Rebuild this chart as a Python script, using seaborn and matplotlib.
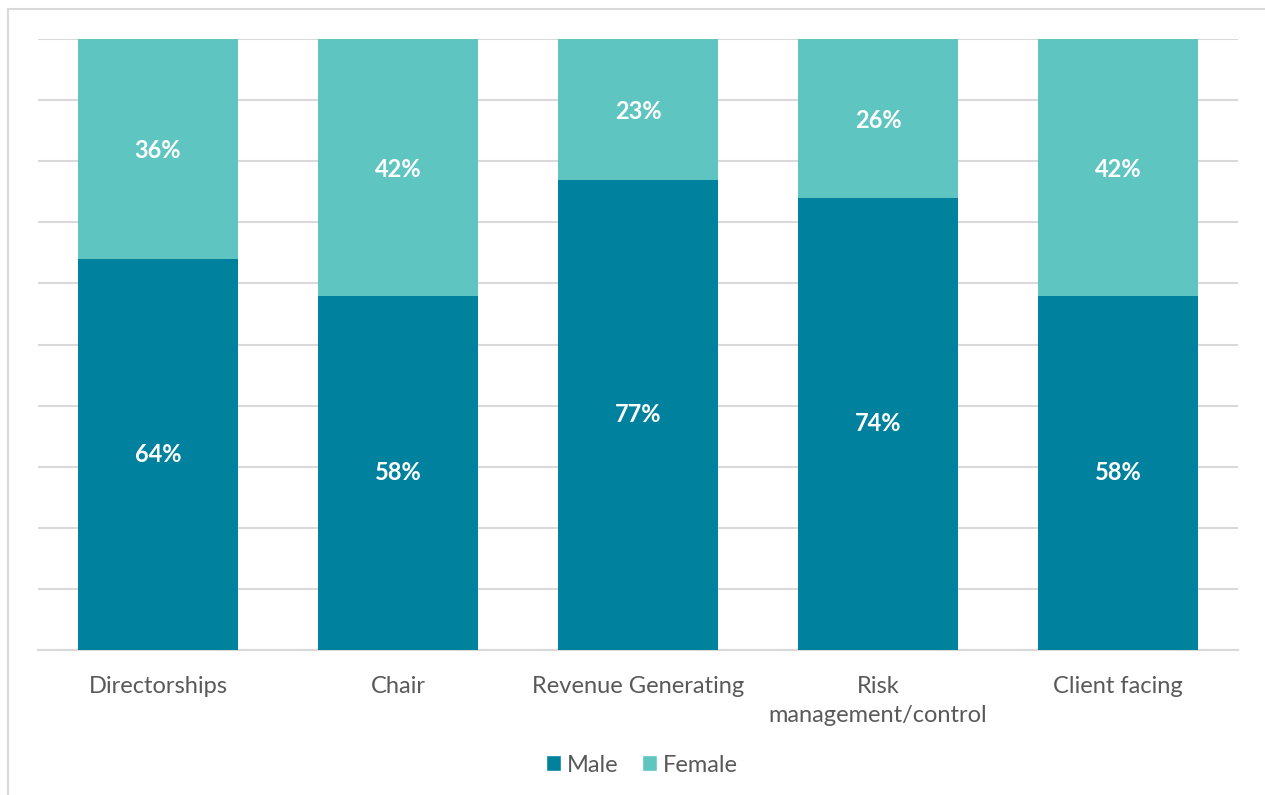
import matplotlib
matplotlib.use("Agg")
import matplotlib.pyplot as plt
import seaborn as sns
import pandas as pd
import numpy as np
from matplotlib.patches import Rectangle, Patch

categories = ["Directorships", "Chair", "Revenue Generating", "Risk\nmanagement/control", "Client facing"]
male = [64, 58, 77, 74, 58]
female = [36, 42, 23, 26, 42]

MALE_C = "#00829F"
FEMALE_C = "#5FC5C1"
TEXT_C = "#595959"
GRID_C = "#D9D9D9"
FS = 17

sns.set_theme(style="white")
plt.rcParams['font.family'] = ['Lato', 'DejaVu Sans']

df = pd.DataFrame({"cat": categories, "male": male, "female": female})
df["total"] = df["male"] + df["female"]

fig = plt.figure(figsize=(12.65, 7.95), dpi=100)
ax = fig.add_axes([38/1265, 1-650/795, 1200/1265, 611/795])

sns.barplot(data=df, x="cat", y="total", color=FEMALE_C, width=0.667, ax=ax, saturation=1,
            linewidth=0, zorder=2)
sns.barplot(data=df, x="cat", y="male", color=MALE_C, width=0.667, ax=ax, saturation=1,
            linewidth=0, zorder=3)

ax.set_ylim(0, 100)
ax.set_xlim(-0.5, len(categories) - 0.5)
ax.set_yticks(np.arange(0, 101, 10))
ax.set_yticklabels([])
ax.yaxis.grid(True, color=GRID_C, linewidth=1.5, zorder=0)
ax.set_axisbelow(True)
for s in ["left", "right", "top"]:
    ax.spines[s].set_visible(False)
ax.spines["bottom"].set_color(GRID_C)
ax.spines["bottom"].set_linewidth(1.5)
ax.tick_params(axis="x", length=0, pad=19, labelsize=FS, labelcolor=TEXT_C)
ax.tick_params(axis="y", length=0)
for lbl in ax.get_xticklabels():
    lbl.set_linespacing(1.45)
ax.set_xlabel("")
ax.set_ylabel("")

for i, (m, f) in enumerate(zip(male, female)):
    ax.text(i, m / 2, f"{m}%", ha="center", va="center", color="white", fontsize=FS, fontweight="bold", zorder=5)
    ax.text(i, m + f / 2 - 0.3, f"{f}%", ha="center", va="center", color="white", fontsize=FS, fontweight="bold", zorder=5)

handles = [Patch(facecolor=MALE_C, label="Male"), Patch(facecolor=FEMALE_C, label="Female")]
fig.legend(handles=handles, loc="center", bbox_to_anchor=(642/1265, 1-765/795), ncol=2, frameon=False,
           fontsize=FS, labelcolor=TEXT_C, handlelength=0.65, handleheight=0.65, handletextpad=0.25,
           columnspacing=1.0)

fig.patches.append(Rectangle((8/1265, -0.1), 1.2, 1 - 9/795 + 0.1, transform=fig.transFigure,
                             fill=False, edgecolor="#D9D9D9", linewidth=1.5))

fig.savefig("out.png", dpi=100)
